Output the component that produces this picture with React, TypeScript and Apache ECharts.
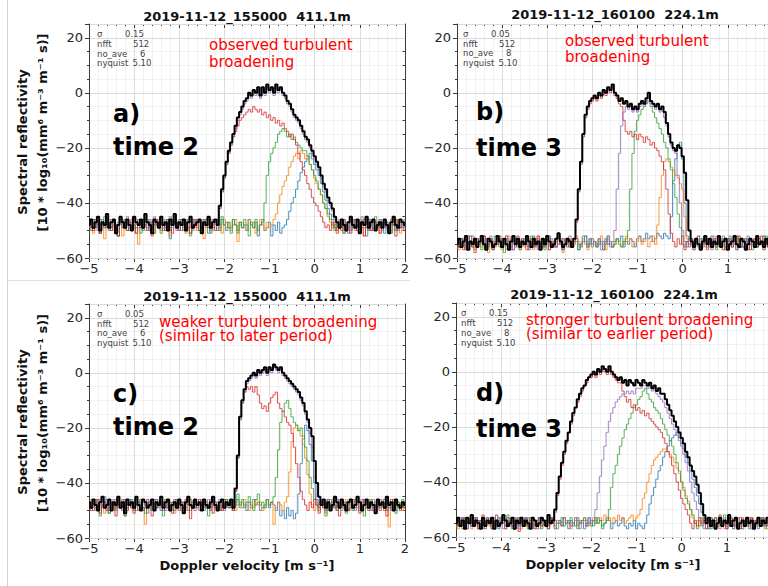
import React, { useEffect, useRef } from 'react';
import * as echarts from 'echarts';

// Doppler velocity grid: first bin and bin width (m/s)
const V0 = -5;
const DV = 0.05;

const X_MIN = -5;
const X_MAX = 2;
const Y_MIN = -60;
const Y_MAX = 25;

const PANEL_TITLES = ['2019-11-12_155000\u00a0 411.1m', '2019-11-12_160100\u00a0 224.1m', '2019-11-12_155000\u00a0 411.1m', '2019-11-12_160100\u00a0 224.1m'];
const SIGMA = ['0.15', '0.05', '0.05', '0.15'];
const NFFT = ['512', '512', '512', '512'];
const NO_AVE = ['6', '8', '6', '8'];
const NYQUIST = ['5.10', '5.10', '5.10', '5.10'];
const INFO_LABELS = ['σ', 'nfft', 'no_ave', 'nyquist'];
const NOTES = [
  ['observed turbulent', 'broadening'],
  ['observed turbulent', 'broadening'],
  ['weaker turbulent broadening', '(similar to later period)'],
  ['stronger turbulent broadening', '(similar to earlier period)'],
];
const TAGS = [['a)', 'time 2'], ['b)', 'time 3'], ['c)', 'time 2'], ['d)', 'time 3']];
const Y_TITLE = ['Spectral reflectivity', '[10 * log\u2081\u2080(mm\u2076 m\u207b\u00b3 m\u207b\u00b9 s)]'];
const X_TITLE = 'Doppler velocity [m s\u207b\u00b9]';

// ---- panel a (time 2, sigma 0.15) ----
const aBlue = [-48,-46,-50,-47,-49,-51,-46,-48,-47,-50,-49,-46,-48,-52,-47,-49,-46,-50,-48,-47,-49,-51,-46,-48,-50,-47,-49,-46,-48,-51,-47,-49,-46,-48,-50,-47,-53,-48,-46,-49,-47,-50,-48,-46,-49,-51,-47,-48,-46,-50,-48,-47,-49,-46,-51,-48,-47,-50,-49,-46,-48,-50,-47,-49,-46,-48,-51,-47,-49,-48,-50,-46,-48,-49,-47,-52,-48,-46,-50,-49,-47,-52,-48,-50,-47,-51,-49,-48,
  -46,-43,-40,-38,-35,-32,-29,-27,-25,-24,-22,-24,-26,-28,-30,-33,-36,-39,-42,-44,-46,-48,
  -50,-47,-49,-46,-48,-51,-47,-49,-46,-50,-48,-47,-49,-52,-46,-48,-50,-47,-49,-46,-48,-51,-47,-49,-48,-46,-50,-47,-49,-48,-46];
const aOrange = [-47,-49,-51,-46,-48,-50,-47,-53,-48,-46,-49,-47,-50,-48,-46,-52,-49,-47,-48,-50,-46,-49,-55,-47,-48,-50,-46,-49,-47,-51,-48,-46,-50,-47,-49,-48,-52,-46,-47,-49,-50,-48,-46,-51,-47,-49,-48,-46,-50,-47,-49,-53,-47,-48,-46,-50,-49,-47,-48,-51,-46,-49,-47,-50,-48,-46,-54,-48,-47,-49,-50,-46,-48,-47,-51,-49,-46,-48,-50,-47,-49,-48,-46,
  -44,-40,-37,-34,-32,-30,-27,-25,-23,-22,-24,-21,-22,-24,-23,-26,-28,-31,-33,-35,-37,-40,-42,-45,-47,
  -49,-47,-50,-46,-48,-51,-47,-49,-46,-48,-50,-47,-49,-46,-52,-48,-47,-50,-46,-49,-48,-51,-47,-46,-49,-48,-50,-47,-46,-49,-51,-48,-47];
const aGreen = [-48,-50,-46,-49,-47,-51,-48,-45,-49,-47,-50,-46,-48,-52,-47,-49,-46,-48,-50,-47,-45,-49,-48,-51,-46,-48,-47,-50,-49,-46,-48,-47,-51,-49,-46,-48,-50,-47,-45,-49,-48,-46,-50,-47,-49,-52,-46,-48,-47,-50,-49,-46,-48,-51,-47,-49,-46,-48,-50,-45,-48,-47,-49,-51,-46,-48,-50,-47,-49,-46,-48,-52,-47,-49,-46,-50,-48,-47,
  -40,-30,-25,-22,-20,-18,-15,-14,-13,-14,-16,-15,-17,-16,-18,-19,-20,-21,-21,-23,-26,-28,-30,-32,-35,-37,-40,-42,-44,-46,
  -48,-50,-47,-49,-46,-51,-48,-47,-50,-46,-49,-48,-51,-47,-46,-49,-50,-48,-47,-45,-49,-48,-50,-46,-47,-49,-51,-48,-46,-50,-47,-49,-48];
const aRed = [-49,-47,-50,-46,-48,-51,-47,-49,-46,-48,-50,-47,-49,-52,-46,-48,-47,-50,-49,-46,-48,-51,-47,-49,-46,-48,-50,-47,-52,-48,-46,-49,-47,-50,-48,-46,-49,-51,-47,-48,-50,-46,-48,-49,-47,-51,-48,-46,-49,-47,-50,-48,-46,-49,-47,-48,-50,-46,
  -42,-36,-31,-26,-22,-19,-16,-14,-12,-10,-9,-8,-7,-6,-7,-5,-6,-7,-6,-8,-7,-9,-8,-10,-9,-11,-10,-12,-11,-13,-14,-16,-15,-17,-19,-22,-25,-28,-30,-33,-35,-38,-40,-41,-43,-45,-47,-49,-48,-50,-47,-49,-51,
  -48,-50,-46,-49,-47,-51,-48,-46,-50,-47,-49,-52,-47,-48,-50,-46,-49,-47,-51,-48,-46,-49,-50,-47,-48,-52,-46,-49,-47,-50];
const aPurple = [-47,-49,-46,-48,-50,-46,-47,-49,-45,-48,-46,-48,-50,-47,-46,-49,-47,-45,-49,-48,-47,-46,-49,-47,-48,-46,-50,-47,-49,-45,-48,-47,-46,-49,-48,-47,-45,-49,-47,-50,-46,-47,-49,-48,-46,-47,-50,-46,-48,-47,-49,-46,-47,-48,-50,-46,-47,-49,
  -42,-36,-31,-26,-22,-19,-16,-13,-10,-8,-6,-4,-3,-1,-2,0,-1,1,-2,1,-1,2,0,1,-1,2,0,1,-1,-2,-4,-5,-7,-9,-10,-11,-13,-15,-17,-18,-20,-22,-24,-26,-28,-31,-34,-36,-39,-41,-43,-46,-48,
  -47,-49,-46,-48,-47,-50,-46,-48,-49,-47,-45,-48,-47,-50,-46,-49,-47,-48,-46,-50,-47,-49,-48,-46,-47,-50,-48,-46,-49,-47];
const aBlack = [-48,-46,-49,-47,-45,-50,-47,-48,-44,-49,-47,-46,-51,-48,-45,-47,-49,-46,-48,-50,-45,-47,-48,-46,-49,-44,-47,-48,-51,-46,-47,-49,-45,-48,-47,-50,-46,-48,-44,-49,-47,-48,-46,-50,-47,-45,-49,-48,-47,-46,-51,-47,-48,-45,-49,-47,-46,-48,
  -41,-35,-30,-25,-21,-18,-15,-12,-9,-7,-5,-3,-2,0,-1,1,0,2,-1,2,0,3,1,2,0,3,1,2,0,-1,-3,-4,-6,-8,-9,-10,-12,-14,-16,-17,-19,-21,-23,-25,-27,-30,-33,-35,-38,-40,-42,-45,-47,
  -49,-46,-48,-50,-47,-45,-48,-49,-46,-51,-47,-48,-45,-49,-47,-46,-50,-48,-47,-49,-46,-48,-51,-47,-45,-48,-49,-46,-47,-48];

// ---- panel b (time 3, sigma 0.05) ----
const bBlue = [-54,-56,-53,-55,-52,-57,-54,-55,-53,-56,-55,-54,-52,-56,-54,-53,-57,-55,-54,-53,-56,-55,-52,-54,-55,-57,-53,-54,-56,-55,-53,-54,-57,-55,-52,-56,-54,-55,-53,-56,-54,-52,-55,-54,-56,-53,-55,-57,-54,-53,-55,-56,-54,-53,-57,-55,-54,-52,-56,-55,-53,-54,-56,-55,-54,-57,-53,-55,-54,-56,-55,-53,-54,-52,-56,-54,-55,-53,-54,-56,-53,-52,-54,-53,-51,-53,-52,-54,-53,-51,-52,-53,-51,-52,-53,
  -45,-32,-24,-19,-18,-24,-40,-52,
  -55,-53,-56,-54,-55,-57,-53,-54,-56,-55,-52,-54,-56,-55,-53,-57,-54,-55,-53,-56,-54,-55,-52,-56,-54,-53,-57,-55,-54,-53,-56,-55,-54,-52,-55,-56,-54,-53];
const bOrange = [-55,-57,-53,-54,-56,-55,-52,-54,-57,-55,-53,-56,-54,-55,-58,-53,-54,-56,-55,-53,-57,-54,-55,-52,-56,-54,-55,-53,-57,-54,-56,-55,-53,-54,-57,-55,-52,-56,-54,-53,-55,-57,-54,-56,-53,-55,-54,-58,-55,-53,-56,-54,-55,-52,-54,-56,-53,-55,-57,-54,-53,-55,-56,-54,-52,-55,-57,-53,-54,-56,-55,-53,-54,-56,-55,-52,-54,-53,-56,-55,-54,-52,-55,-54,-53,-56,-54,-52,-55,
  -48,-38,-30,-25,-24,-25,-27,-28,-30,-31,-33,-35,-45,-53,
  -55,-54,-56,-53,-55,-57,-54,-56,-53,-55,-54,-52,-56,-55,-53,-57,-54,-55,-53,-56,-54,-55,-52,-56,-54,-57,-55,-53,-54,-56,-55,-53,-54,-57,-55,-54,-56,-53];
const bGreen = [-54,-56,-55,-53,-57,-54,-52,-56,-55,-53,-54,-57,-55,-53,-56,-54,-55,-52,-54,-56,-53,-58,-55,-54,-56,-53,-55,-54,-57,-53,-55,-54,-56,-52,-55,-54,-53,-56,-55,-57,-54,-53,-55,-56,-54,-52,-55,-57,-53,-54,-56,-55,-53,-54,-57,-55,-52,-54,-56,-53,-55,-54,-56,-53,-55,-57,-54,-52,-55,-56,-54,-53,-55,-56,-54,-53,
  -50,-35,-22,-14,-10,-8,-6,-5,-4,-3,-5,-7,-9,-11,-13,-15,-18,-20,-24,-28,-33,-38,-44,-49,-55,
  -56,-54,-53,-55,-57,-54,-56,-53,-55,-52,-54,-56,-55,-53,-57,-54,-55,-53,-56,-54,-52,-55,-54,-57,-53,-55,-56,-54,-53,-55,-57,-54,-56,-53,-55,-54,-52,-56,-55,-54];
const bRed = [-54,-56,-53,-57,-55,-52,-54,-56,-58,-53,-55,-54,-52,-56,-55,-53,-57,-54,-55,-52,-56,-54,-53,-55,-57,-54,-56,-52,-55,-53,-54,-57,-55,-53,-56,-54,-52,-55,-56,-54,-53,-57,-55,-54,-56,-52,-55,-53,-54,-56,-55,-53,-54,
  -47,-36,-26,-16,-9,-6,-4,-3,-2,-3,-1,-2,0,-1,1,0,2,-1,-2,-4,-5,-10,-14,-15,-14,-16,-15,-17,-15,-16,-18,-16,-17,-19,-18,-20,-21,-23,-25,-28,-35,-44,-51,
  -54,-56,-53,-55,-52,-57,-54,-56,-53,-55,-54,-52,-56,-55,-53,-57,-54,-55,-53,-56,-52,-54,-55,-57,-53,-54,-56,-55,-52,-54,-56,-53,-55,-54,-57,-55,-53,-56,-54,-52,-55,-54,-56,-53,-55];
const bPurple = [-55,-53,-56,-54,-57,-53,-55,-52,-54,-56,-55,-53,-54,-57,-55,-52,-56,-54,-53,-55,-56,-54,-52,-55,-53,-57,-54,-56,-55,-53,-54,-52,-56,-55,-54,-53,-57,-55,-54,-56,-52,-55,-53,-54,-56,-55,-53,-57,-54,-55,-52,-56,-54,-53,-55,-56,-54,-52,-55,-53,-56,-54,-55,-53,-57,-54,-55,-52,-56,-54,
  -50,-35,-22,-12,-7,-5,-6,-5,-7,-6,-7,-5,-4,-5,-3,-2,-4,-5,-6,-5,-7,-6,-9,-12,-16,-19,-21,-22,-30,-40,-50,
  -54,-56,-53,-55,-57,-54,-52,-55,-56,-53,-54,-55,-57,-53,-56,-54,-55,-52,-54,-56,-53,-55,-54,-57,-55,-53,-56,-54,-52,-55,-54,-56,-53,-55,-54,-57,-53,-55,-56,-54];
const bBlack = [-55,-53,-56,-54,-52,-57,-54,-55,-53,-56,-54,-52,-55,-57,-53,-54,-56,-55,-52,-54,-56,-53,-55,-57,-54,-52,-55,-53,-56,-54,-55,-52,-54,-56,-53,-55,-54,-57,-53,-55,-52,-54,-56,-55,-53,-51,-54,-56,-55,-53,-54,-56,-53,
  -46,-35,-25,-15,-8,-5,-3,-2,-1,-2,0,-1,1,0,2,1,3,0,-1,-3,-2,-4,-3,-5,-4,-6,-5,-6,-4,-3,-4,-2,0,-3,-4,-5,-4,-6,-5,-7,-11,-15,-18,-20,-21,-19,-20,-23,-29,-39,-50,
  -54,-56,-53,-55,-57,-54,-52,-55,-53,-56,-54,-55,-52,-56,-54,-53,-57,-55,-54,-52,-55,-56,-53,-54,-57,-55,-53,-54,-56,-52,-55,-54,-56,-53,-55,-54,-56];

// ---- panel c (time 2, sigma 0.05) ----
const cBlue = [-47,-49,-48,-46,-50,-47,-49,-48,-46,-51,-48,-47,-49,-46,-48,-50,-47,-49,-48,-46,-50,-48,-47,-49,-46,-48,-51,-47,-49,-48,-46,-48,-50,-47,-49,-46,-48,-47,-50,-49,-46,-48,-47,-49,-50,-46,-48,-47,-49,-48,-46,-50,-47,-48,-49,-46,-48,-50,-47,-49,-48,-46,-49,-47,-50,-48,-46,-49,-47,-48,-50,-47,-49,-46,-48,-47,-50,-49,-48,-46,-49,-47,-48,-50,-47,-52,-50,-53,-49,-52,-50,-53,-51,
  -44,-33,-24,-19,-21,-26,-32,-40,-46,
  -49,-47,-48,-50,-46,-49,-47,-48,-50,-46,-49,-48,-47,-50,-46,-48,-49,-47,-50,-48,-46,-49,-47,-48,-50,-47,-49,-46,-48,-50,-47,-49,-48,-46,-50,-47,-49,-48,-47];
const cOrange = [-48,-46,-49,-50,-47,-48,-46,-51,-48,-49,-47,-50,-46,-48,-49,-47,-52,-48,-46,-49,-50,-47,-48,-46,-49,-55,-48,-47,-50,-46,-49,-48,-47,-50,-46,-48,-49,-47,-51,-48,-46,-49,-47,-50,-48,-46,-49,-47,-48,-50,-46,-49,-47,-48,-50,-46,-49,-48,-47,-50,-46,-48,-49,-47,-46,-50,-48,-47,-49,-46,-48,-50,-47,-49,-46,-48,-47,-50,-49,-46,-48,-47,-55,-49,-47,-48,-50,-47,
  -45,-36,-25,-20,-19,-21,-23,-26,-31,-37,-44,-48,
  -50,-47,-49,-46,-48,-51,-47,-49,-46,-48,-50,-47,-49,-48,-46,-50,-47,-49,-48,-46,-50,-47,-48,-49,-46,-48,-50,-47,-49,-48,-46,-50,-47,-56,-48,-46,-49,-47,-48,-50,-47];
const cGreen = [-49,-47,-50,-48,-46,-52,-48,-47,-49,-51,-47,-48,-50,-46,-49,-47,-52,-48,-46,-49,-47,-50,-48,-46,-49,-51,-47,-48,-50,-46,-49,-47,-48,-52,-46,-49,-47,-50,-48,-46,-49,-47,-51,-48,-46,-50,-47,-49,-48,-46,-50,-47,-49,-52,-48,-46,-49,-47,-50,-48,-47,-46,-49,-48,-50,-47,-44,-48,-46,-49,-47,-45,-48,-50,-46,-44,-48,-47,-49,-46,-48,-47,
  -45,-38,-28,-18,-14,-11,-10,-13,-16,-18,-19,-21,-20,-23,-27,-32,-38,-42,-46,
  -48,-50,-47,-49,-52,-48,-46,-49,-47,-50,-48,-46,-49,-51,-47,-48,-50,-46,-49,-47,-48,-52,-47,-49,-46,-48,-50,-47,-49,-48,-46,-50,-47,-49,-48,-51,-47,-48,-46,-49];
const cRed = [-48,-50,-47,-49,-46,-51,-48,-47,-50,-46,-49,-48,-52,-47,-49,-46,-48,-50,-47,-49,-51,-46,-48,-47,-50,-49,-46,-48,-52,-47,-49,-48,-46,-50,-47,-49,-48,-51,-46,-48,-50,-47,-49,-46,-48,-53,-47,-49,-48,-46,-50,-47,-49,-48,-46,-51,-47,-49,-48,-50,-46,-48,-47,-49,-50,
  -43,-31,-17,-11,-7,-5,-6,-5,-7,-5,-8,-11,-13,-12,-14,-11,-9,-8,-7,-11,-13,-14,-16,-18,-19,-22,-27,-33,-38,-43,-46,
  -48,-50,-47,-49,-46,-48,-51,-47,-49,-48,-46,-50,-47,-49,-48,-52,-46,-48,-47,-50,-49,-46,-48,-47,-51,-49,-46,-48,-50,-47,-49,-48,-46,-50,-47,-49,-52,-48,-46,-49,-47,-48,-50,-47,-49];
const cPurple = [-47,-48,-50,-46,-49,-47,-48,-45,-49,-50,-47,-46,-48,-49,-47,-50,-46,-48,-47,-49,-48,-46,-50,-47,-49,-48,-46,-47,-50,-48,-46,-49,-47,-48,-50,-46,-48,-49,-47,-46,-48,-50,-47,-49,-46,-48,-47,-50,-49,-46,-48,-47,-49,-46,-50,-48,-47,-49,-46,-48,-50,-47,-48,-49,-47,
  -43,-31,-17,-11,-7,-4,-3,-2,-1,-2,0,-1,0,1,-1,1,0,2,1,0,1,-1,-2,-3,-4,-5,-6,-7,-8,-10,-12,-15,-18,-22,-27,-38,-46,
  -49,-47,-48,-50,-46,-48,-47,-49,-46,-48,-50,-47,-49,-48,-46,-47,-50,-48,-49,-46,-47,-49,-48,-50,-46,-48,-47,-49,-47,-46,-49,-48,-50,-47,-46,-48,-49,-47,-48];
const cBlack = [-47,-49,-46,-48,-50,-47,-45,-49,-48,-46,-50,-47,-48,-45,-49,-47,-51,-46,-48,-47,-49,-45,-48,-50,-46,-47,-49,-48,-46,-50,-47,-48,-45,-49,-47,-46,-50,-48,-47,-49,-46,-48,-51,-47,-45,-48,-49,-46,-48,-47,-50,-46,-48,-49,-47,-45,-48,-50,-47,-46,-49,-47,-48,-46,-49,
  -42,-30,-16,-10,-6,-3,-2,-1,0,-1,1,0,1,2,0,2,1,3,2,1,2,0,-1,-2,-3,-4,-5,-6,-7,-9,-11,-14,-17,-20,-23,-32,-40,-45,
  -48,-46,-49,-47,-50,-48,-45,-47,-49,-46,-48,-50,-47,-46,-49,-48,-45,-47,-50,-48,-46,-49,-47,-48,-51,-46,-48,-47,-49,-45,-48,-47,-50,-46,-48,-49,-47,-48];

// ---- panel d (time 3, sigma 0.15) ----
const dBlue = [-55,-54,-56,-53,-55,-57,-54,-56,-55,-53,-54,-56,-57,-55,-53,-54,-56,-55,-54,-57,-53,-55,-56,-54,-55,-53,-57,-54,-56,-55,-54,-53,-56,-55,-57,-54,-55,-53,-56,-54,-55,-57,-54,-53,-56,-55,-54,-56,-53,-55,-57,-54,-55,-56,-53,-55,-54,-57,-55,-53,-56,-54,-55,-53,-54,-56,-55,-53,-54,-57,-55,-54,-56,-55,-53,-56,-57,-55,-56,-54,-57,-55,-56,-57,-55,
  -52,-48,-45,-42,-39,-36,-34,-31,-29,-27,-25,-24,-23,-22,-24,-26,-28,-31,-33,-36,-39,-42,-45,-48,-51,-54,
  -55,-57,-54,-56,-53,-55,-54,-56,-55,-57,-53,-55,-54,-56,-55,-53,-57,-54,-55,-56,-53,-55,-54,-57,-55,-53,-56,-54,-55,-56];
const dOrange = [-55,-57,-54,-56,-53,-55,-54,-57,-55,-53,-56,-54,-55,-57,-53,-56,-54,-55,-52,-56,-55,-54,-57,-53,-55,-56,-54,-55,-53,-57,-54,-56,-55,-53,-54,-56,-55,-57,-53,-55,-54,-56,-55,-53,-57,-54,-55,-56,-53,-55,-54,-57,-55,-53,-56,-54,-55,-53,-54,-56,-55,-53,-54,-55,-53,-54,-52,-54,-53,-55,-53,-54,-52,-54,-53,-55,-54,-53,-52,-54,-53,-52,
  -50,-46,-44,-40,-37,-34,-32,-31,-30,-29,-28,-28,-29,-30,-31,-33,-35,-37,-40,-42,-45,-47,-50,-53,
  -55,-54,-56,-53,-55,-57,-54,-56,-55,-53,-54,-56,-55,-57,-54,-53,-55,-56,-54,-55,-53,-57,-55,-54,-56,-53,-55,-54,-56,-55,-53,-57,-54,-55,-56];
const dGreen = [-56,-54,-55,-57,-53,-55,-54,-56,-55,-53,-57,-54,-56,-55,-53,-54,-57,-55,-56,-53,-55,-54,-56,-52,-55,-57,-54,-55,-53,-56,-54,-55,-57,-53,-56,-54,-55,-53,-57,-55,-54,-56,-53,-55,-54,-57,-55,-53,-56,-54,-55,-53,-56,-54,-57,-55,-54,-53,-56,-55,-54,-56,-53,-55,-54,-57,-55,-54,
  -50,-42,-37,-34,-30,-27,-24,-21,-19,-17,-15,-13,-12,-10,-9,-7,-6,-8,-10,-11,-13,-14,-15,-17,-19,-21,-23,-25,-27,-30,-33,-36,-40,-43,-46,-48,-50,-52,
  -55,-57,-54,-56,-53,-55,-54,-57,-55,-53,-56,-54,-55,-52,-56,-55,-54,-57,-53,-55,-56,-54,-55,-53,-57,-54,-56,-55,-53,-54,-56,-55,-57,-54,-55];
const dRed = [-54,-56,-55,-53,-57,-55,-54,-56,-53,-55,-57,-54,-52,-56,-55,-54,-57,-53,-55,-56,-54,-53,-57,-55,-54,-56,-53,-55,-58,-54,-55,-53,-56,-54,-55,-57,-54,-53,-56,-55,-54,-57,-53,-55,
  -51,-45,-39,-34,-30,-26,-22,-19,-16,-13,-11,-9,-7,-5,-4,-2,-2,-1,-2,0,-1,1,0,-1,1,-1,-2,-3,-4,-4,-7,-9,-11,-10,-13,-12,-14,-13,-15,-14,-16,-15,-17,-18,-19,-20,-21,-22,-24,-26,-29,-31,-34,-37,-40,-43,-46,-48,-50,-52,
  -55,-57,-54,-56,-53,-55,-54,-57,-55,-53,-56,-54,-55,-52,-56,-54,-57,-55,-53,-56,-54,-55,-57,-53,-54,-56,-55,-53,-57,-54,-55,-56,-53,-54,-56,-55,-54];
const dPurple = [-55,-54,-56,-53,-55,-57,-54,-56,-55,-53,-54,-56,-55,-57,-53,-55,-54,-56,-52,-55,-54,-57,-55,-53,-56,-54,-55,-53,-57,-54,-56,-55,-53,-54,-56,-55,-57,-54,-53,-55,-56,-54,-55,-53,-57,-55,-54,-56,-53,-55,-54,-56,-55,-53,-54,-57,-55,-54,-56,-53,-55,-54,
  -50,-44,-38,-32,-27,-22,-18,-15,-13,-11,-10,-9,-8,-8,-7,-8,-7,-8,-6,-6,-6,-5,-5,-6,-5,-7,-6,-8,-9,-10,-11,-13,-15,-17,-19,-21,-23,-25,-27,-30,-33,-36,-40,-44,-47,-50,-53,
  -55,-57,-54,-56,-53,-55,-54,-56,-57,-55,-53,-54,-56,-55,-57,-54,-53,-55,-56,-54,-55,-53,-57,-54,-56,-55,-53,-54,-56,-55,-54,-57];
const dBlack = [-55,-53,-56,-54,-57,-53,-55,-52,-56,-54,-55,-57,-53,-56,-54,-55,-53,-57,-54,-56,-55,-52,-54,-56,-55,-53,-57,-54,-55,-53,-56,-54,-55,-57,-53,-54,-56,-55,-53,-54,-56,-52,-55,-54,
  -50,-44,-38,-33,-29,-25,-22,-18,-15,-13,-10,-8,-6,-5,-3,-2,-1,0,-1,1,0,2,1,0,2,0,-1,-2,-3,-2,-4,-3,-5,-3,-4,-5,-3,-4,-5,-3,-4,-5,-4,-6,-5,-7,-6,-8,-8,-10,-12,-14,-16,-18,-20,-22,-24,-26,-29,-31,-34,-36,-38,-41,-44,-48,-52,
  -55,-53,-56,-54,-57,-55,-53,-56,-54,-55,-52,-56,-54,-53,-57,-55,-54,-56,-53,-55,-54,-57,-55,-53,-56,-54,-55,-53,-56,-54];

const PANEL_DATA = [
  [aBlue, aOrange, aGreen, aRed, aPurple, aBlack],
  [bBlue, bOrange, bGreen, bRed, bPurple, bBlack],
  [cBlue, cOrange, cGreen, cRed, cPurple, cBlack],
  [dBlue, dOrange, dGreen, dRed, dPurple, dBlack],
];

const COLORS = ['#1f77b4', '#ff7f0e', '#2ca02c', '#d62728', '#9467bd', '#000000'];
const FONT = '"DejaVu Sans", "Liberation Sans", sans-serif';
const AX = '#3a3a3a';
const LBL = '#262626';
const W = 316;
const H = 234;

const LAYOUT = [
  { left: 89, top: 24, titleY: 16, noteX: 209, noteY: [45, 61.5], tagX: 113, tagY: [113.5, 146.5], infoX: 97, infoY: [34.4, 44, 53.6, 63.4], cutRight: false },
  { left: 457, top: 24, titleY: 14.5, noteX: 565, noteY: [41, 57], tagX: 476, tagY: [111.5, 148], infoX: 463, infoY: [34.3, 43.7, 53.3, 63.2], cutRight: true },
  { left: 89, top: 304, titleY: 296, noteX: 159, noteY: [321.5, 335.5], tagX: 113, tagY: [393.7, 426.7], infoX: 97, infoY: [314.3, 323.7, 333.3, 343.3], cutRight: false },
  { left: 456, top: 303, titleY: 294.5, noteX: 526, noteY: [320, 334], tagX: 476, tagY: [392.5, 428.5], infoX: 461, infoY: [313.3, 322.8, 332.6, 342.8], cutRight: true },
];
const INFO_DX = [28, 36, 43, 35.5];

const fmt = (v: number) => (v < 0 ? '\u2212' + Math.abs(v) : String(v));
const toXY = (ys: number[]) => ys.map((y, k) => [Math.round((V0 + k * DV) * 1000) / 1000, y]);

function buildOption() {
  const grid: any[] = [];
  const xAxis: any[] = [];
  const yAxis: any[] = [];
  const series: any[] = [];
  const elements: any[] = [];

  LAYOUT.forEach((p, i) => {
    grid.push({ left: p.left, top: p.top, width: W, height: H, containLabel: false });
    const lineStyle = { color: AX, width: 1 };
    xAxis.push({
      gridIndex: i, type: 'value', min: X_MIN, max: X_MAX, interval: 1, position: 'bottom',
      axisLine: { show: true, onZero: false, lineStyle },
      axisTick: { show: true, length: 4, lineStyle },
      minorTick: { show: true, splitNumber: 5, length: 2, lineStyle },
      axisLabel: {
        show: true, margin: 4, fontSize: 13, fontFamily: FONT, color: LBL,
        formatter: (v: number) => (p.cutRight && v === X_MAX ? '' : fmt(v)),
      },
      splitLine: { show: true, lineStyle: { color: '#dcdcdc', width: 1 } },
      minorSplitLine: { show: true, lineStyle: { color: '#f1f1f1', width: 1 } },
    });
    xAxis.push({
      gridIndex: i, type: 'value', min: X_MIN, max: X_MAX, interval: 1, position: 'top',
      axisLine: { show: true, onZero: false, lineStyle },
      axisTick: { show: true, inside: true, length: 4, lineStyle },
      minorTick: { show: true, splitNumber: 5, length: 2, lineStyle },
      axisLabel: { show: false },
      splitLine: { show: false },
    });
    yAxis.push({
      gridIndex: i, type: 'value', min: Y_MIN, max: Y_MAX, interval: 20, position: 'left', z: 1,
      axisLine: { show: true, onZero: false, lineStyle },
      axisTick: { show: true, length: 4, lineStyle },
      axisLabel: { show: true, margin: 6, fontSize: 13, fontFamily: FONT, color: LBL, formatter: (v: number) => (v % 20 === 0 ? fmt(v) : '') },
      splitLine: { show: true, lineStyle: { color: '#dcdcdc', width: 1 } },
    });
    yAxis.push({
      gridIndex: i, type: 'value', min: Y_MIN, max: Y_MAX, interval: 5, position: 'left', z: 0,
      axisLine: { show: false, onZero: false },
      axisTick: { show: true, length: 2, lineStyle },
      axisLabel: { show: false },
      splitLine: { show: true, lineStyle: { color: '#f1f1f1', width: 1 } },
    });
    yAxis.push({
      gridIndex: i, type: 'value', min: Y_MIN, max: Y_MAX, interval: 5, position: 'right',
      axisLine: { show: true, onZero: false, lineStyle },
      axisTick: { show: true, inside: true, length: 2.5, lineStyle },
      axisLabel: { show: false },
      splitLine: { show: false },
    });

    PANEL_DATA[i].forEach((ys, s) => {
      const isBlack = s === 5;
      series.push({
        type: 'line', xAxisIndex: 2 * i, yAxisIndex: 3 * i, data: toXY(ys),
        step: 'middle', showSymbol: false, symbol: 'none', silent: true, clip: true,
        z: 2 + s,
        lineStyle: { color: COLORS[s], width: isBlack ? 2 : 1, opacity: isBlack ? 1 : 0.8 },
      });
    });

    const txt = (x: number, y: number, text: string, extra: any) => ({
      type: 'text', x, y, z: 100, silent: true,
      style: Object.assign({ text, fontFamily: FONT, align: 'left', verticalAlign: 'middle', textAlign: 'left', textVerticalAlign: 'middle' }, extra),
    });

    elements.push(txt(p.left + W / 2, p.titleY, PANEL_TITLES[i], { fontSize: 13, fontWeight: 'bold', fill: '#111', align: 'center', textAlign: 'center' }));
    const vals = [SIGMA[i], NFFT[i], NO_AVE[i], NYQUIST[i]];
    INFO_LABELS.forEach((lab, k) => {
      elements.push(txt(p.infoX, p.infoY[k], lab, { fontSize: 8.5, fill: '#444' }));
      elements.push(txt(p.infoX + INFO_DX[k], p.infoY[k], vals[k], { fontSize: 8.5, fill: '#444' }));
    });
    const noteLH = p.noteY[1] - p.noteY[0];
    elements.push(txt(p.noteX, p.noteY[0] - noteLH / 2, NOTES[i].join('\n'), {
      fontSize: 15, fill: '#ff0000', lineHeight: noteLH, verticalAlign: 'top', textVerticalAlign: 'top',
    }));
    const tagLH = p.tagY[1] - p.tagY[0];
    elements.push(txt(p.tagX, p.tagY[0] - tagLH / 2, TAGS[i].join('\n'), {
      fontSize: 24, fontWeight: 'bold', fill: '#000', lineHeight: tagLH, verticalAlign: 'top', textVerticalAlign: 'top',
    }));
  });

  // y-axis titles (left panels)
  [[142, 132.5], [422, 413]].forEach(([c1, c2]) => {
    elements.push({ type: 'text', x: 22, y: c1, rotation: Math.PI / 2, z: 100, silent: true,
      style: { text: Y_TITLE[0], fontFamily: FONT, fontSize: 13, fontWeight: 'bold', fill: '#111', align: 'center', verticalAlign: 'middle', textAlign: 'center', textVerticalAlign: 'middle' } });
    elements.push({ type: 'text', x: 42, y: c2, rotation: Math.PI / 2, z: 100, silent: true,
      style: { text: Y_TITLE[1], fontFamily: FONT, fontSize: 13, fontWeight: 'bold', fill: '#111', align: 'center', verticalAlign: 'middle', textAlign: 'center', textVerticalAlign: 'middle' } });
  });
  // x-axis titles (bottom panels)
  [[247, 565], [613, 564]].forEach(([cx, cy]) => {
    elements.push({ type: 'text', x: cx, y: cy, z: 100, silent: true,
      style: { text: X_TITLE, fontFamily: FONT, fontSize: 13, fontWeight: 'bold', fill: '#111', align: 'center', verticalAlign: 'middle', textAlign: 'center', textVerticalAlign: 'middle' } });
  });
  // faint composite borders
  elements.push({ type: 'line', z: 0, silent: true, shape: { x1: 7.5, y1: 0, x2: 7.5, y2: 586 }, style: { stroke: '#d4d4d4', lineWidth: 1 } });
  elements.push({ type: 'line', z: 0, silent: true, shape: { x1: 7.5, y1: 280.5, x2: 410, y2: 280.5 }, style: { stroke: '#e0e0e0', lineWidth: 1 } });

  return {
    animation: false,
    backgroundColor: '#ffffff',
    grid, xAxis, yAxis, series,
    graphic: { elements },
  };
}

export default function App() {
  const ref = useRef<HTMLDivElement>(null);
  useEffect(() => {
    if (!ref.current) return;
    const chart = echarts.init(ref.current, undefined, { renderer: 'svg' });
    chart.setOption(buildOption() as any);
    return () => chart.dispose();
  }, []);
  return (
    <div style={{ position: 'fixed', left: 0, top: 0, width: 768, height: 586, overflow: 'hidden', background: '#fff' }}>
      <div ref={ref} style={{ width: 800, height: 586 }} />
    </div>
  );
}
